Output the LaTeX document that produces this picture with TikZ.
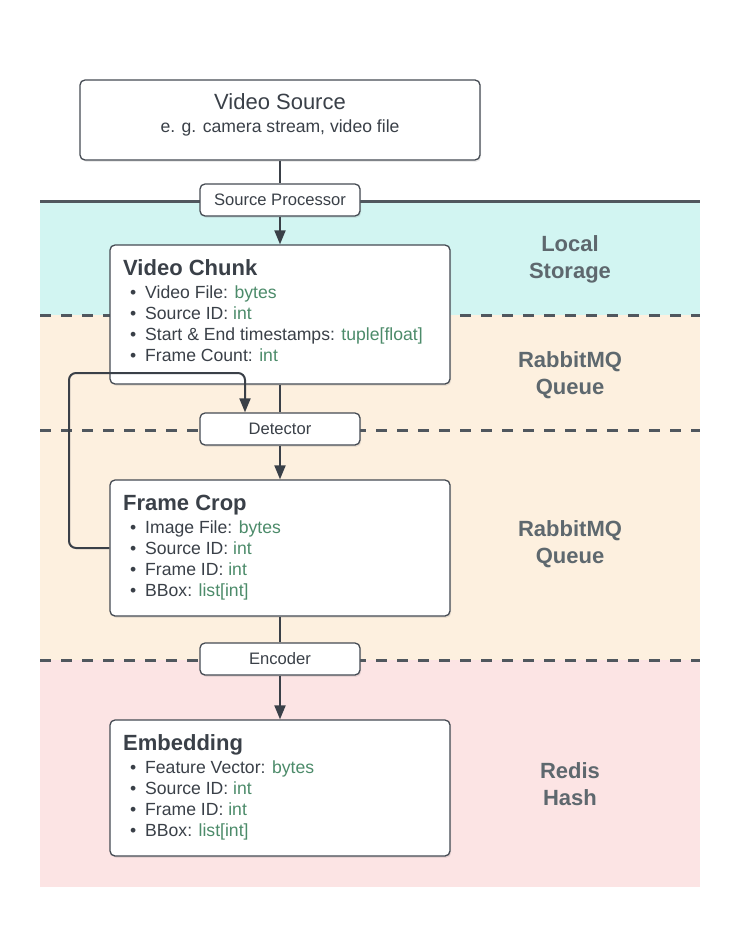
\documentclass[tikz,border=0pt]{standalone}
\usepackage{fontspec}
\setmainfont{Liberation Sans}
\usetikzlibrary{arrows.meta,shadows}
\definecolor{ink}{HTML}{3A4048}
\definecolor{boxline}{HTML}{454B53}
\definecolor{typegreen}{HTML}{4C8B6A}
\definecolor{sidegray}{HTML}{5E686E}
\definecolor{bandline}{HTML}{50575E}
\definecolor{cyanband}{HTML}{D2F5F2}
\definecolor{beigeband}{HTML}{FDF0DF}
\definecolor{pinkband}{HTML}{FCE4E4}
\newcommand\sztitle{\fontsize{22}{26}\selectfont}
\newcommand\szbul{\fontsize{17.6}{21}\selectfont}
\newcommand\szproc{\fontsize{16.6}{20}\selectfont}
\newcommand\bulline[4]{\node[bl] (#1) at (130,#2) {\makebox[15pt][l]{•}#3: \textcolor{typegreen}{#4}};}
\tikzset{
 box/.style={draw=boxline, line width=1.3pt, rounded corners=5pt, fill=white, inner sep=0pt,
   drop shadow={shadow xshift=1.2pt, shadow yshift=-1.8pt, opacity=0.16}},
 proc/.style={box, minimum width=160pt, minimum height=32pt, font=\szproc, text=ink},
 dbox/.style={box, minimum width=340pt},
 ttl/.style={anchor=base west, inner sep=0pt, font=\sztitle\bfseries, text=ink},
 bl/.style={anchor=base west, inner sep=0pt, font=\szbul, text=ink},
 side/.style={anchor=base, inner sep=0pt, font=\sztitle\bfseries, text=sidegray},
 conn/.style={draw=ink, line width=2pt},
 arr/.style={conn, -{Triangle[length=14pt,width=11pt]}},
 bandsolid/.style={line width=3pt, draw=bandline},
 banddash/.style={line width=3pt, draw=bandline, dash pattern=on 11pt off 10pt},
}
\begin{document}
\begin{tikzpicture}[x=1pt,y=-1pt]
\useasboundingbox (0,0) rectangle (740,928);
% bands
\fill[cyanband] (40,201) rectangle (700,315);
\fill[beigeband] (40,315) rectangle (700,660);
\fill[pinkband] (40,660) rectangle (700,887);
\draw[bandsolid] (40,201) -- (700,201);
\draw[banddash] (40,315) -- (700,315);
\draw[banddash] (40,430) -- (700,430);
\draw[banddash] (40,660) -- (700,660);
% side labels
\node[side] (ls1) at (570,251) {Local};
\node[side] (ls2) at (570,278) {Storage};
\node[side] (rq1) at (570,367) {RabbitMQ};
\node[side] (rq2) at (570,394) {Queue};
\node[side] (rq3) at (570,536) {RabbitMQ};
\node[side] (rq4) at (570,563) {Queue};
\node[side] (rh1) at (570,778) {Redis};
\node[side] (rh2) at (570,805) {Hash};
% video source
\node[box, minimum width=400pt, minimum height=80pt] (vs) at (280,120) {};
\node[anchor=base, inner sep=0pt, font=\sztitle, text=ink] (vst) at (280,110) {Video Source};
\node[anchor=base, inner sep=0pt, font=\szbul, text=ink] (vss) at (280,133) {e. g. camera stream, video file};
% processors
\node[proc] (sp) at (280,200) {Source Processor};
\node[proc] (det) at (280,429) {Detector};
\node[proc] (enc) at (280,659) {Encoder};
% data boxes
\node[dbox, minimum height=139pt] (vc) at (280,314.5) {};
\node[ttl] (vct) at (123,275) {Video Chunk};
\bulline{vc1}{298}{Video File}{bytes}
\bulline{vc2}{319}{Source ID}{int}
\bulline{vc3}{340}{Start \& End timestamps}{tuple[float]}
\bulline{vc4}{361}{Frame Count}{int}
\node[dbox, minimum height=136pt] (fc) at (280,548) {};
\node[ttl] (fct) at (123,510) {Frame Crop};
\bulline{fc1}{533}{Image File}{bytes}
\bulline{fc2}{554}{Source ID}{int}
\bulline{fc3}{575}{Frame ID}{int}
\bulline{fc4}{596}{BBox}{list[int]}
\node[dbox, minimum height=136pt] (emb) at (280,788) {};
\node[ttl] (embt) at (123,750) {Embedding};
\bulline{em1}{773}{Feature Vector}{bytes}
\bulline{em2}{794}{Source ID}{int}
\bulline{em3}{815}{Frame ID}{int}
\bulline{em4}{836}{BBox}{list[int]}
% connectors
\draw[conn] (vs.south) -- (sp.north);
\draw[arr] (sp.south) -- (vc.north);
\draw[conn] (vc.south) -- (det.north);
\draw[arr] (det.south) -- (fc.north);
\draw[conn] (fc.south) -- (enc.north);
\draw[arr] (enc.south) -- (emb.north);
\coordinate (loopA) at (69,373);
\draw[arr, rounded corners=7pt] (fc.west) -| (loopA) -| ([xshift=-35pt]det.north);
\end{tikzpicture}
\end{document}
